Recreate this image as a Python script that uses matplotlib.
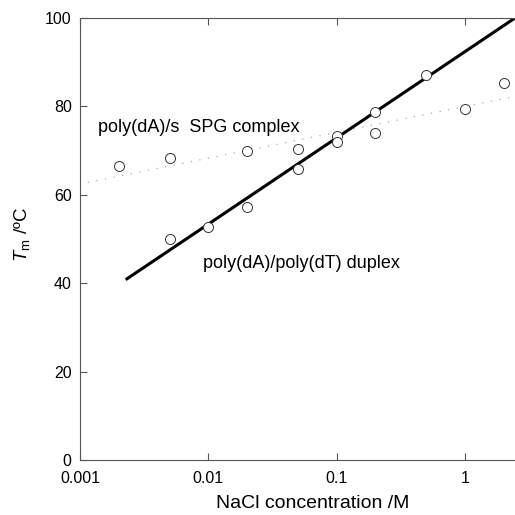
import numpy as np
import matplotlib
matplotlib.use("Agg")
import matplotlib.pyplot as plt

plt.rcParams['font.family'] = ['Liberation Sans', 'DejaVu Sans']
plt.rcParams['mathtext.fontset'] = 'custom'
plt.rcParams['mathtext.rm'] = 'Liberation Sans'
plt.rcParams['mathtext.it'] = 'Liberation Sans:italic'

# ===== data =====
# poly(dA)/s SPG complex
spg_nacl = [0.002, 0.005, 0.02, 0.05, 0.1, 0.2, 1.0, 2.0]
spg_tm = [66.6, 68.3, 70.0, 70.4, 73.4, 74.0, 79.4, 85.4]

# poly(dA)/poly(dT) duplex
dup_nacl = [0.005, 0.01, 0.02, 0.05, 0.1, 0.2, 0.5]
dup_tm = [50.0, 52.7, 57.2, 65.8, 71.9, 78.8, 87.1]

# fitted lines (end points)
dup_fit_x = [0.00227, 2.45]
dup_fit_y = [40.8, 100.0]
spg_fit_x = [0.00115, 2.4]
spg_fit_y = [62.8, 82.2]

xticks = [0.001, 0.01, 0.1, 1]
xticklabels = ["0.001", "0.01", "0.1", "1"]
yticks = [0, 20, 40, 60, 80, 100]

fig = plt.figure(figsize=(5.15, 5.15), dpi=100)
ax = fig.add_axes([80/515, 55/515, 435/515, 442/515])

ax.plot(spg_fit_x, spg_fit_y, color='#aaaaaa', lw=0.9, ls=(0, (1, 6)))
ax.plot(dup_fit_x, dup_fit_y, color='black', lw=2.2, solid_capstyle='butt')
ax.plot(spg_nacl, spg_tm, ls='none', marker='o', ms=7.2, mfc='white',
        mec='#333333', mew=0.7)
ax.plot(dup_nacl, dup_tm, ls='none', marker='o', ms=7.2, mfc='white',
        mec='#333333', mew=0.7)

ax.set_xscale('log')
ax.set_xlim(0.001, 2.45)
ax.set_ylim(0, 100)
ax.set_xticks(xticks)
ax.set_xticklabels(xticklabels)
ax.set_yticks(yticks)
ax.minorticks_off()

for s in ['left', 'bottom', 'top']:
    ax.spines[s].set_color('#555555')
    ax.spines[s].set_linewidth(0.8)
ax.spines['right'].set_visible(False)
ax.tick_params(axis='both', direction='in', length=5, width=0.8,
               color='#555555', labelsize=11.5)
ax.tick_params(axis='x', top=True, pad=8)
ax.tick_params(axis='y', pad=6)

ax.text(0.00138, 75.2, "poly(dA)/s  SPG complex", fontsize=13, va='center')
ax.text(0.0091, 44.5, "poly(dA)/poly(dT) duplex", fontsize=13, va='center')

fig.text(313/515, 1 - 503/515, "NaCl concentration /M", fontsize=14,
         ha='center', va='center')
fig.text(22/515, 1 - 235/515, r"$T_{\mathrm{m}}$ /ºC", fontsize=13.5,
         ha='center', va='center', rotation=90)

fig.savefig("out.png", dpi=100)
